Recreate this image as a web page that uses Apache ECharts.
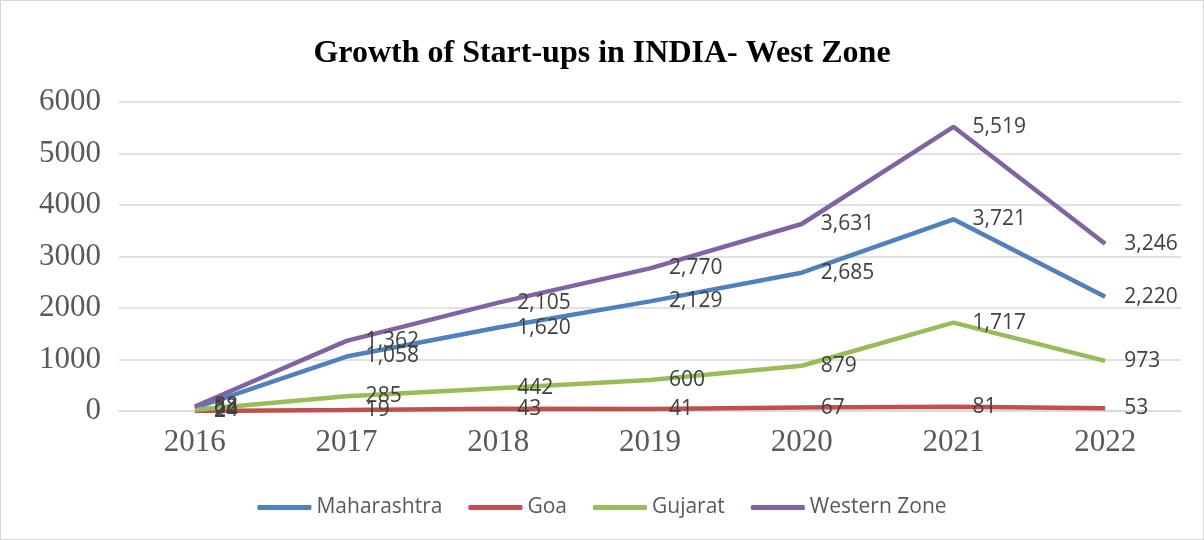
<!DOCTYPE html>
<html><head><meta charset="utf-8">
<script src="https://cdn.jsdelivr.net/npm/echarts@6/dist/echarts.min.js"></script>
<style>html,body{margin:0;padding:0;background:#fff}#c{width:1202px;height:538px;border:1px solid #d9d9d9}</style>
</head><body><div id="c"></div>
<script>
var years = ['2016','2017','2018','2019','2020','2021','2022'];
var maharashtra = [62,1058,1620,2129,2685,3721,2220];
var goa = [2,19,43,41,67,81,53];
var gujarat = [24,285,442,600,879,1717,973];
var western = [88,1362,2105,2770,3631,5519,3246];
var chart = echarts.init(document.getElementById('c'));
function fmt(p){return p.value.toLocaleString('en-US');}
function mk(name,data,color){
  return {name:name,type:'line',data:data,symbol:'circle',symbolSize:0.1,showSymbol:true,smooth:false,
    lineStyle:{width:4.5,color:color},itemStyle:{color:color},
    label:{show:true,position:'right',distance:19,offset:[0,2],formatter:fmt,color:'#404040',fontSize:21,fontFamily:'Open Sans, Liberation Sans, sans-serif'},
    labelLayout:{hideOverlap:false}};
}
chart.setOption({
  animation:false,
  title:{text:'Growth of Start-ups in INDIA- West Zone',left:'center',top:32,textStyle:{fontFamily:'Liberation Serif, Times New Roman, serif',fontWeight:'bold',fontSize:32,color:'#000'}},
  legend:{bottom:16,left:'center',itemWidth:54,itemHeight:5,itemGap:26,icon:'roundRect',textStyle:{fontSize:21,color:'#595959',fontFamily:'Open Sans, Liberation Sans, sans-serif'},
    data:['Maharashtra','Goa','Gujarat','Western Zone']},
  grid:{left:118,right:22,top:101,bottom:128},
  xAxis:{type:'category',data:years,boundaryGap:true,
    axisLine:{lineStyle:{color:'#d9d9d9',width:1.5}},axisTick:{show:false},
    axisLabel:{fontFamily:'Liberation Serif, serif',fontSize:31,color:'#595959',margin:16}},
  yAxis:{type:'value',min:0,max:6000,interval:1000,
    axisLine:{show:false},axisTick:{show:false},
    splitLine:{lineStyle:{color:'#d9d9d9',width:1.5}},
    axisLabel:{fontFamily:'Liberation Serif, serif',fontSize:31,color:'#595959',margin:18,formatter:function(v){return String(v);}}},
  series:[mk('Maharashtra',maharashtra,'#4F81BD'),mk('Goa',goa,'#C0504D'),mk('Gujarat',gujarat,'#9BBB59'),mk('Western Zone',western,'#8064A2')]
});
</script></body></html>
